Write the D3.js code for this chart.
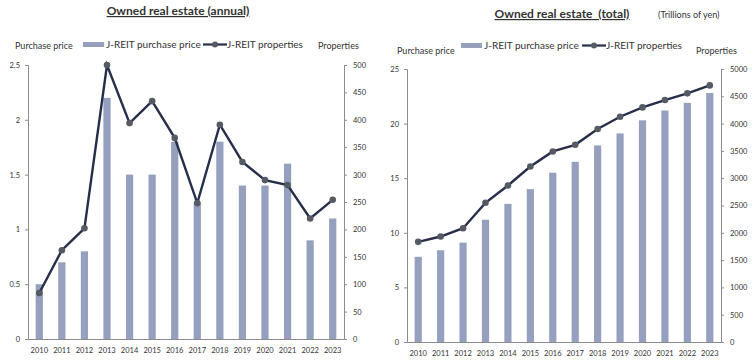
<!DOCTYPE html>
<html>
<head>
<meta charset="utf-8">
<script src="https://cdn.jsdelivr.net/npm/d3@7"></script>
<style>
  body { margin: 0; background: #fff; }
  text { font-family: Lato, "Open Sans", sans-serif; fill: #333; }
</style>
</head>
<body>
<div id="chart"></div>
<script>
// years shared by both charts
var years = ['2010','2011','2012','2013','2014','2015','2016','2017','2018','2019','2020','2021','2022','2023'];

// annual chart (trillions of yen / number of properties)
var annual_price = [0.5, 0.7, 0.8, 2.2, 1.5, 1.5, 1.8, 1.25, 1.8, 1.4, 1.4, 1.6, 0.9, 1.1];
var annual_props = [84, 162, 202, 500, 394, 434, 367, 248, 391, 323, 290, 281, 220, 254];
var annual_left_ticks = [0, 0.5, 1, 1.5, 2, 2.5];
var annual_right_ticks = [0, 50, 100, 150, 200, 250, 300, 350, 400, 450, 500];

// total chart
var total_price = [7.8, 8.4, 9.1, 11.2, 12.65, 14.0, 15.5, 16.5, 18.0, 19.1, 20.3, 21.2, 21.9, 22.8];
var total_props = [1834, 1932, 2084, 2549, 2867, 3215, 3490, 3612, 3900, 4126, 4297, 4431, 4554, 4700];
var total_left_ticks = [0, 5, 10, 15, 20, 25];
var total_right_ticks = [0, 500, 1000, 1500, 2000, 2500, 3000, 3500, 4000, 4500, 5000];

var bar_color = '#95a0bf';
var line_color = '#262e4a';
var dot_color = '#555a63';
var axis_color = '#8c8c8c';

var svg = d3.select('#chart')
	.append('svg')
	.attr('width', 754)
	.attr('height', 362);

function drawChart(opt) {
	var g = svg.append('g');

	var x_scale = d3.scaleBand()
		.domain(years)
		.range([opt.left, opt.right])
		.paddingInner(0.68)
		.paddingOuter(0.34);

	var y_scale = d3.scaleLinear()
		.domain([0, opt.leftMax])
		.range([opt.bottom, opt.top]);

	var y2_scale = d3.scaleLinear()
		.domain([0, opt.rightMax])
		.range([opt.bottom, opt.top]);

	// bars
	g.selectAll('rect.bar')
		.data(opt.price)
		.enter()
		.append('rect')
		.attr('class', 'bar')
		.attr('x', function(d, i){ return x_scale(years[i]); })
		.attr('y', function(d){ return y_scale(d); })
		.attr('width', x_scale.bandwidth())
		.attr('height', function(d){ return opt.bottom - y_scale(d); })
		.attr('fill', bar_color);

	// axes
	var left_axis = d3.axisLeft(y_scale)
		.tickValues(opt.leftTicks)
		.tickSize(3)
		.tickPadding(5)
		.tickFormat(function(d){ return d; });
	var la = g.append('g')
		.attr('transform', 'translate(' + opt.left + ',0)')
		.call(left_axis);

	var right_axis = d3.axisRight(y2_scale)
		.tickValues(opt.rightTicks)
		.tickSize(3)
		.tickPadding(6)
		.tickFormat(function(d){ return d; });
	var ra = g.append('g')
		.attr('transform', 'translate(' + opt.right + ',0)')
		.call(right_axis);

	var bottom_axis = d3.axisBottom(x_scale)
		.tickSize(0)
		.tickPadding(9);
	var ba = g.append('g')
		.attr('transform', 'translate(0,' + opt.bottom + ')')
		.call(bottom_axis);

	[la, ra, ba].forEach(function(a){
		a.selectAll('path, line').attr('stroke', axis_color);
		a.selectAll('text')
			.style('font-family', 'Lato, sans-serif')
			.style('font-size', '7.5px')
			.attr('fill', '#333');
	});

	// line + markers
	var line = d3.line()
		.x(function(d, i){ return x_scale(years[i]) + x_scale.bandwidth() / 2; })
		.y(function(d){ return y2_scale(d); });

	g.append('path')
		.datum(opt.props)
		.attr('d', line)
		.attr('fill', 'none')
		.attr('stroke', line_color)
		.attr('stroke-width', 2.4);

	g.selectAll('circle.dot')
		.data(opt.props)
		.enter()
		.append('circle')
		.attr('class', 'dot')
		.attr('cx', function(d, i){ return x_scale(years[i]) + x_scale.bandwidth() / 2; })
		.attr('cy', function(d){ return y2_scale(d); })
		.attr('r', 3.3)
		.attr('fill', dot_color);

	// title
	g.append('text')
		.attr('x', opt.titleX)
		.attr('y', opt.titleY)
		.attr('text-anchor', 'middle')
		.style('font-size', '12px')
		.style('font-weight', 'bold')
		.style('text-decoration', 'underline')
		.style('white-space', 'pre')
		.text(opt.title);

	// axis titles
	g.append('text')
		.attr('x', opt.ltX)
		.attr('y', opt.atY)
		.style('font-size', '9px')
		.text('Purchase price');
	g.append('text')
		.attr('x', opt.rtX)
		.attr('y', opt.atY)
		.style('font-size', '9px')
		.text('Properties');

	// legend
	var lg = g.append('g').attr('transform', 'translate(' + opt.legX + ',' + opt.legY + ')');
	lg.append('rect')
		.attr('x', 0).attr('y', -5)
		.attr('width', 21).attr('height', 5)
		.attr('fill', bar_color);
	lg.append('text')
		.attr('x', 23).attr('y', 1)
		.style('font-size', '10px')
		.text('J-REIT purchase price');
	lg.append('line')
		.attr('x1', opt.legLine).attr('x2', opt.legLine + 24)
		.attr('y1', -2.5).attr('y2', -2.5)
		.attr('stroke', line_color)
		.attr('stroke-width', 2.2);
	lg.append('circle')
		.attr('cx', opt.legLine + 12).attr('cy', -2.5)
		.attr('r', 3)
		.attr('fill', dot_color);
	lg.append('text')
		.attr('x', opt.legLine + 24).attr('y', 1)
		.style('font-size', '10px')
		.text('J-REIT properties');
}

drawChart({
	left: 28, right: 344, top: 65, bottom: 339,
	leftMax: 2.5, rightMax: 500,
	leftTicks: annual_left_ticks, rightTicks: annual_right_ticks,
	price: annual_price, props: annual_props,
	title: 'Owned real estate (annual)', titleX: 178, titleY: 15,
	ltX: 15, rtX: 318, atY: 49,
	legX: 83, legY: 47, legLine: 120
});

drawChart({
	left: 407, right: 721, top: 69, bottom: 342,
	leftMax: 25, rightMax: 5000,
	leftTicks: total_left_ticks, rightTicks: total_right_ticks,
	price: total_price, props: total_props,
	title: 'Owned real estate  (total)', titleX: 562, titleY: 18,
	ltX: 397, rtX: 696, atY: 54,
	legX: 461, legY: 48, legLine: 121
});

svg.append('text')
	.attr('x', 658)
	.attr('y', 18)
	.style('font-size', '9px')
	.text('(Trillions of yen)');
</script>
</body>
</html>
